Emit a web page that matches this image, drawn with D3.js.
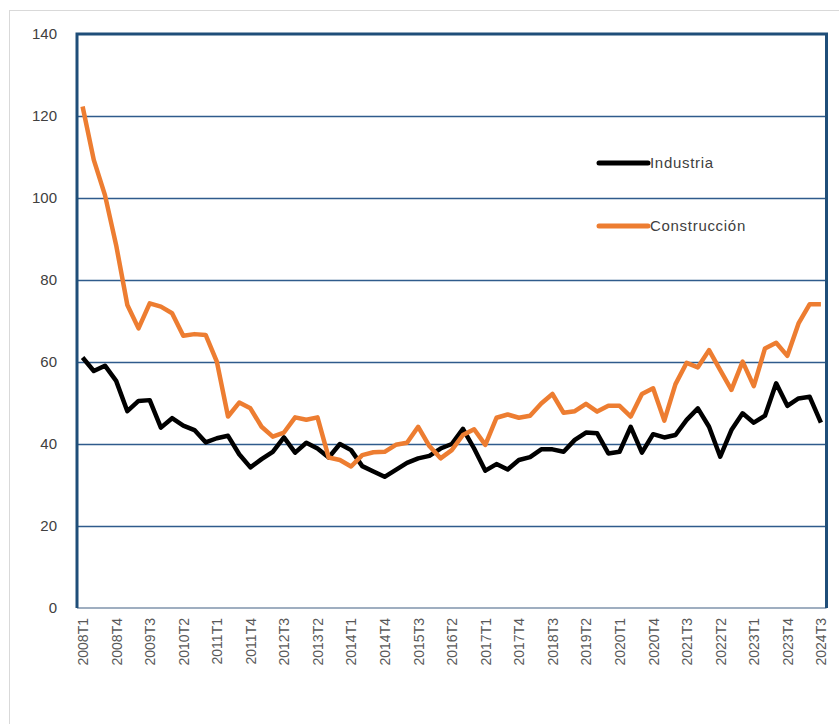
<!DOCTYPE html>
<html>
<head>
<meta charset="utf-8">
<script src="https://cdn.jsdelivr.net/npm/d3@7"></script>
<style>
  body { margin: 0; background: #fff; }
  text { font-family: "Liberation Sans", Arial, sans-serif; }
</style>
</head>
<body>
<script>
// quarters 2008T1 .. 2024T3
var years = d3.range(2008, 2025);
var quarters = [];
years.forEach(function (y) {
    [1, 2, 3, 4].forEach(function (q) {
        if (y < 2024 || q <= 3) quarters.push(y + "T" + q);
    });
});

var industria = [61.1, 57.8, 59.1, 55.4, 48.0, 50.5, 50.7, 44.0, 46.3, 44.5,
    43.4, 40.4, 41.4, 42.0, 37.5, 34.3, 36.3, 38.1, 41.6, 37.9,
    40.3, 38.9, 36.7, 40.0, 38.5, 34.6, 33.3, 32.0, 33.7, 35.4,
    36.5, 37.1, 38.9, 40.0, 43.7, 38.9, 33.5, 35.1, 33.8, 36.1,
    36.8, 38.7, 38.7, 38.1, 41.0, 42.8, 42.6, 37.7, 38.1, 44.2,
    37.9, 42.4, 41.6, 42.2, 45.9, 48.7, 44.2, 36.9, 43.4, 47.5,
    45.2, 46.9, 54.8, 49.3, 51.1, 51.5, 45.2];

var construccion = [122.3, 109.3, 100.7, 88.5, 73.9, 68.2, 74.3, 73.5, 71.9, 66.4,
    66.8, 66.6, 60.1, 46.7, 50.1, 48.7, 44.2, 41.8, 42.8, 46.5,
    45.9, 46.5, 36.7, 36.1, 34.5, 37.3, 38.0, 38.1, 39.8, 40.3,
    44.2, 39.5, 36.5, 38.5, 42.2, 43.6, 39.8, 46.4, 47.2, 46.4,
    46.9, 49.9, 52.2, 47.6, 48.0, 49.8, 47.9, 49.3, 49.3, 46.7,
    52.2, 53.6, 45.7, 54.6, 59.8, 58.7, 62.9, 58.0, 53.2, 60.1,
    54.1, 63.3, 64.7, 61.5, 69.4, 74.1, 74.1];

var yTicks = [0, 20, 40, 60, 80, 100, 120, 140];

var W = 839, H = 724;
var margin = {top: 34, right: 12.5, bottom: 116, left: 77};
var width = W - margin.left - margin.right,
    height = H - margin.top - margin.bottom;

var svg = d3.select("body").append("svg")
    .attr("width", W)
    .attr("height", H);

// outer chart frame
svg.append("rect")
    .attr("x", 9.5).attr("y", 10.5)
    .attr("width", W - 9).attr("height", H)
    .style("fill", "none")
    .style("stroke", "#d9d9d9")
    .style("stroke-width", 1);

var x = d3.scalePoint().domain(quarters).range([0, width]).padding(0.5);
var y = d3.scaleLinear().domain([0, 140]).range([height, 0]);

var g = svg.append("g")
    .attr("transform", "translate(" + margin.left + "," + margin.top + ")");

// gridlines
g.append("g")
    .call(d3.axisLeft(y).tickValues(yTicks.slice(1, -1)).tickSize(-width).tickFormat(""))
    .call(function (s) {
        s.select(".domain").remove();
        s.selectAll("line").style("stroke", "#2f5b8c").style("stroke-width", 1.6);
    });

// y labels
g.append("g")
    .call(d3.axisLeft(y).tickValues(yTicks).tickSize(0).tickPadding(20))
    .call(function (s) {
        s.select(".domain").remove();
        s.selectAll("text")
            .style("font-size", "15px")
            .style("fill", "#404040");
    });

// x labels
g.append("g")
    .attr("transform", "translate(0," + height + ")")
    .call(d3.axisBottom(x)
        .tickValues(quarters.filter(function (d, i) { return i % 3 == 0; }))
        .tickSize(0))
    .call(function (s) {
        s.select(".domain").remove();
        s.selectAll("text")
            .attr("transform", "rotate(-90)")
            .attr("x", -10)
            .attr("y", 0)
            .attr("dy", "0.35em")
            .style("text-anchor", "end")
            .style("font-size", "14px")
            .style("fill", "#595959");
    });

// plot frame
g.append("line")
    .attr("x1", 0).attr("x2", width).attr("y1", height).attr("y2", height)
    .style("stroke", "#7f93ab").style("stroke-width", 1.5);
g.append("path")
    .attr("d", "M0," + height + "V0H" + width + "V" + height)
    .style("fill", "none")
    .style("stroke", "#1f4e79")
    .style("stroke-width", 3);

var line = d3.line()
    .x(function (d, i) { return x(quarters[i]); })
    .y(function (d) { return y(d); });

g.append("path")
    .datum(industria)
    .attr("d", line)
    .style("fill", "none")
    .style("stroke", "#000")
    .style("stroke-width", 4.5)
    .style("stroke-linejoin", "round");

g.append("path")
    .datum(construccion)
    .attr("d", line)
    .style("fill", "none")
    .style("stroke", "#ed7d31")
    .style("stroke-width", 4.5)
    .style("stroke-linejoin", "round");

// legend
var legend = [
    {name: "Industria", color: "#000", y: 163},
    {name: "Construcción", color: "#ed7d31", y: 226}
];
var lg = svg.selectAll(".legend")
    .data(legend)
    .enter().append("g")
    .attr("class", "legend")
    .attr("transform", function (d) { return "translate(599," + d.y + ")"; });
lg.append("line")
    .attr("x1", 0).attr("x2", 49)
    .style("stroke", function (d) { return d.color; })
    .style("stroke-width", 5)
    .style("stroke-linecap", "round");
lg.append("text")
    .attr("x", 51)
    .attr("dy", "0.35em")
    .style("font-size", "15px")
    .style("letter-spacing", "0.7px")
    .style("fill", "#404040")
    .text(function (d) { return d.name; });
</script>
</body>
</html>
